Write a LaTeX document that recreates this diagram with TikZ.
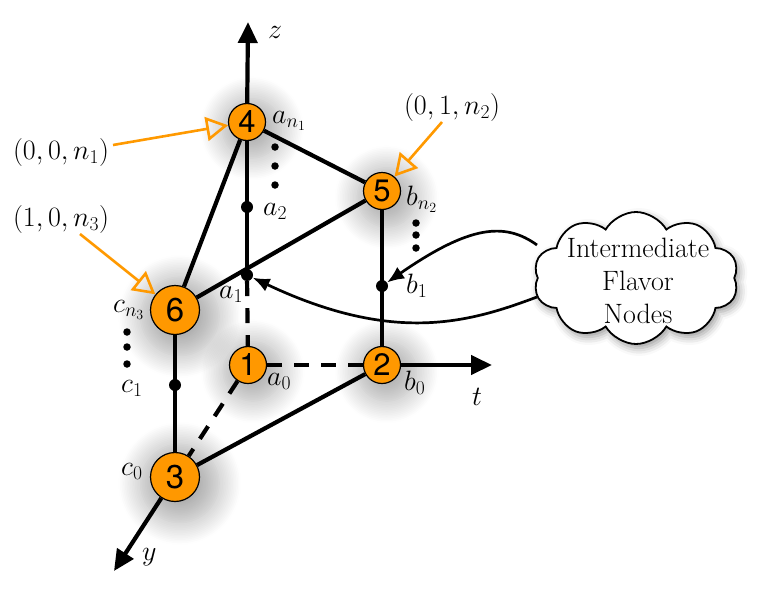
\RequirePackage{fix-cm}
\documentclass[tikz,border=0pt]{standalone}
\usepackage{fontspec}
\newfontfamily\numfont{TeX Gyre Heros}
\usetikzlibrary{arrows.meta,shapes.symbols,shadows.blur,calc}
\definecolor{nodeorange}{RGB}{255,152,0}
\definecolor{arroworange}{RGB}{255,153,0}
\begin{document}
\begin{tikzpicture}[x=1pt,y=-1pt, font=\fontsize{28}{34}\selectfont,
  vtx/.style={circle,draw=black,line width=1.2pt,fill=nodeorange,inner sep=0pt,minimum size=37pt,font=\numfont\fontsize{31}{33}\selectfont,
    blur shadow={shadow blur radius=14pt,shadow blur steps=14,shadow xshift=3pt,shadow yshift=-4pt,shadow opacity=32,shadow scale=1.6}},
  bigvtx/.style={vtx,minimum size=49pt,font=\numfont\fontsize{33}{35}\selectfont},
  edge/.style={line width=4.2pt},
  dashedge/.style={edge,dash pattern=on 15pt off 12pt},
  axis/.style={edge,-{Triangle[length=21pt,width=19pt]}},
  ptr/.style={draw=arroworange,line width=2.6pt,-{Triangle[open,length=22pt,width=24pt]}},
  flow/.style={line width=2.7pt,-{Latex[length=17pt,width=14pt]}},
  lbl/.style={anchor=base west,inner sep=0pt},
  bigdot/.style={circle,fill=black,inner sep=0pt,minimum size=12pt},
  smalldot/.style={circle,fill=black,inner sep=0pt,minimum size=7.5pt}
]
\useasboundingbox (0,0) rectangle (775,589);

% vertices
\node[vtx] (n4) at (247,122) {4};
\node[vtx] (n5) at (382,191) {5};
\node[bigvtx] (n6) at (175,310) {6};
\node[vtx] (n1) at (248,365) {1};
\node[vtx] (n2) at (382,365) {2};
\node[bigvtx] (n3) at (175,477) {3};

% intermediate dots
\node[bigdot] (a2) at (247,207) {};
\node[bigdot] (a1) at (247,275) {};
\node[bigdot] (b1) at (382,286) {};
\node[bigdot] (c1) at (175,385) {};

\node[smalldot] (ad1) at (275,147) {};
\node[smalldot] (ad2) at (275,166) {};
\node[smalldot] (ad3) at (275,185) {};
\node[smalldot] (bd1) at (416,223) {};
\node[smalldot] (bd2) at (416,235) {};
\node[smalldot] (bd3) at (416,248) {};
\node[smalldot] (cd1) at (127,332) {};
\node[smalldot] (cd2) at (127,347) {};
\node[smalldot] (cd3) at (127,364) {};

% axis ends
\coordinate (ztip) at (248,22);
\coordinate (ttip) at (492,365);
\coordinate (ytip) at (114,571);

\draw[axis] (n4) -- (ztip);
\draw[axis] (n2) -- (ttip);
\draw[axis] (n3) -- (ytip);
\draw[edge] (n4) -- (a1.center);
\draw[dashedge] (a1) -- (n1);
\draw[edge] (n4) -- (n5);
\draw[edge] (n4) -- (n6);
\draw[edge] (n6) -- (n5);
\draw[edge] (n5) -- (n2);
\draw[dashedge] (n1) -- (n2);
\draw[dashedge] (n1) -- (n3);
\draw[edge] (n2) -- (n3);
\draw[edge] (n6) -- (n3);

% axis labels
\node[lbl] (zl) at (268,38) {$z$};
\node[lbl] (tl) at (472,405) {$t$};
\node[lbl] (yl) at (142,560) {$y$};

% vertex labels
\node[lbl] (la4) at (272,123) {$a_{n_1}$};
\node[lbl] (la2) at (263,215) {$a_2$};
\node[lbl] (la1) at (219,298) {$a_1$};
\node[lbl] (la0) at (267,385) {$a_0$};
\node[lbl] (lb5) at (406,205) {$b_{n_2}$};
\node[lbl] (lb1) at (406,293) {$b_1$};
\node[lbl] (lb0) at (404,390) {$b_0$};
\node[lbl] (lc6) at (113,312) {$c_{n_3}$};
\node[lbl] (lc1) at (121,392) {$c_1$};
\node[lbl] (lc0) at (121,475) {$c_0$};

% coordinate labels with pointers
\node (p1) at (61,152) {$(0,0,n_1)$};
\node (p3) at (61,219) {$(1,0,n_3)$};
\node (p2) at (452,107) {$(0,1,n_2)$};
\coordinate (p1s) at (113,145);
\coordinate (p3s) at (80,234);
\coordinate (p2s) at (442,122);
\draw[ptr] (p1s) -- (n4);
\draw[ptr] (p3s) -- (n6);
\draw[ptr] (p2s) -- (n5);

% cloud
\node[cloud, cloud puffs=10, cloud puff arc=120, draw, line width=1.8pt, fill=white,
      minimum width=205pt, minimum height=132pt, inner sep=0pt,
      blur shadow={shadow blur radius=8pt,shadow xshift=3pt,shadow yshift=-4pt,shadow opacity=40}] (cloud) at (636,278) {};
\node[align=center, font=\fontsize{28}{33}\selectfont] (cloudtext) at (638,281) {Intermediate\\Flavor\\Nodes};

\coordinate (f1s) at (537,245);
\coordinate (f2s) at (537,297);
\draw[flow] (f1s) .. controls (505,222) and (470,225) .. (b1);
\draw[flow] (f2s) .. controls (470,322) and (395,345) .. (a1);
\end{tikzpicture}
\end{document}
